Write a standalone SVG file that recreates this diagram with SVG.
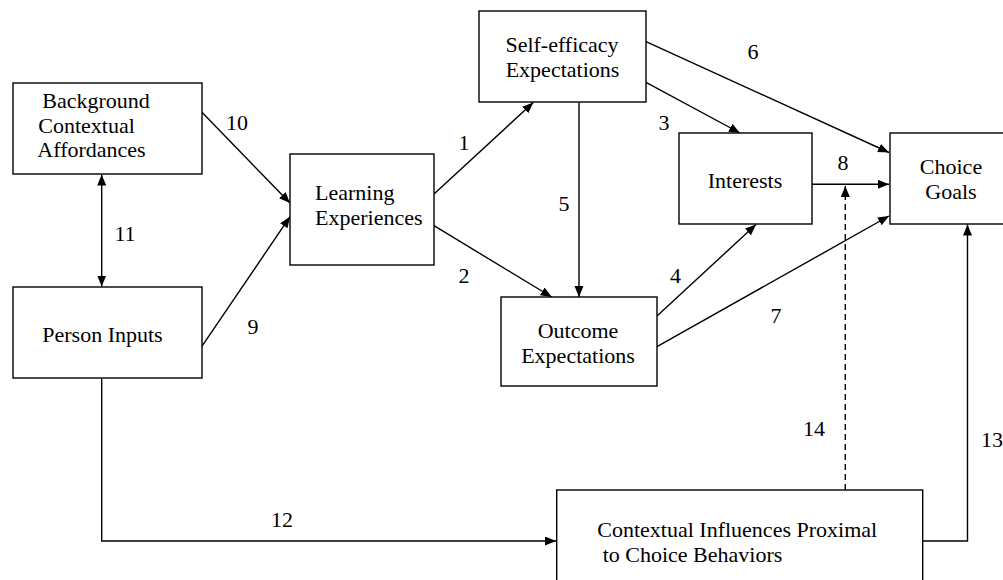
<svg xmlns="http://www.w3.org/2000/svg" width="1003" height="580" viewBox="0 0 1003 580">
<style>
.box{fill:#fff;stroke:#000;stroke-width:1.4}
text{font-family:'Liberation Serif','Times New Roman',serif;font-size:22px;fill:#000}
.m{text-anchor:middle}
.c{fill:none;stroke:#000;stroke-width:1.4}
.d{stroke-dasharray:6 4}
</style>
<defs>
<marker id="ah" markerUnits="userSpaceOnUse" markerWidth="12" markerHeight="10" refX="11" refY="4.5" orient="auto-start-reverse">
<path d="M0,0 L11,4.5 L0,9 z" fill="#000"/>
</marker>
</defs>
<rect width="1003" height="580" fill="#fff"/>
<g id="connectors">
<line class="c" x1="101.7" y1="174.5" x2="101.7" y2="286.5" marker-start="url(#ah)" marker-end="url(#ah)"/>
<line class="c" x1="201.7" y1="112" x2="290" y2="203" marker-end="url(#ah)"/>
<line class="c" x1="201.7" y1="346.7" x2="290" y2="216.7" marker-end="url(#ah)"/>
<line class="c" x1="434" y1="194" x2="533.3" y2="102.5" marker-end="url(#ah)"/>
<line class="c" x1="434" y1="225.7" x2="551.7" y2="297" marker-end="url(#ah)"/>
<line class="c" x1="579" y1="102.5" x2="579" y2="297" marker-end="url(#ah)"/>
<line class="c" x1="646" y1="82.3" x2="740" y2="133" marker-end="url(#ah)"/>
<line class="c" x1="646" y1="41.7" x2="889" y2="152.5" marker-end="url(#ah)"/>
<line class="c" x1="657" y1="316" x2="756" y2="224.5" marker-end="url(#ah)"/>
<line class="c" x1="657" y1="346.7" x2="889" y2="216" marker-end="url(#ah)"/>
<line class="c" x1="812" y1="184.3" x2="889" y2="184.3" marker-end="url(#ah)"/>
<path class="c" d="M101.7,378.5 V541 H556" marker-end="url(#ah)"/>
<path class="c" d="M922.7,541 H967.5 V224.5" marker-end="url(#ah)"/>
<line class="c d" x1="845.3" y1="490" x2="845.3" y2="186" marker-end="url(#ah)"/>
</g>
<g id="labels">
<text class="m" x="237" y="130">10</text>
<text class="m" x="125" y="241">11</text>
<text class="m" x="253" y="334">9</text>
<text class="m" x="464" y="150">1</text>
<text class="m" x="464" y="283">2</text>
<text class="m" x="664" y="130">3</text>
<text class="m" x="675.5" y="283">4</text>
<text class="m" x="564" y="211">5</text>
<text class="m" x="753" y="59">6</text>
<text class="m" x="776" y="323">7</text>
<text class="m" x="843" y="170">8</text>
<text class="m" x="282" y="527">12</text>
<text class="m" x="992" y="447">13</text>
<text class="m" x="814" y="436">14</text>
</g>
<g id="background">
<rect class="box" x="13" y="83" width="189" height="91"/>
<text class="m" x="96" y="108">Background</text>
<text class="m" x="86.5" y="132.5">Contextual</text>
<text class="m" x="91.5" y="157">Affordances</text>
</g>
<g id="person">
<rect class="box" x="13" y="287" width="189" height="91"/>
<text class="m" x="102.5" y="342">Person Inputs</text>
</g>
<g id="learning">
<rect class="box" x="290" y="154" width="144" height="111"/>
<text x="315" y="200">Learning</text>
<text x="315" y="225">Experiences</text>
</g>
<g id="selfefficacy">
<rect class="box" x="479" y="11" width="167" height="91"/>
<text class="m" x="562" y="52">Self-efficacy</text>
<text class="m" x="562.5" y="77">Expectations</text>
</g>
<g id="interests">
<rect class="box" x="679" y="133" width="133" height="91"/>
<text class="m" x="745" y="187.5">Interests</text>
</g>
<g id="outcome">
<rect class="box" x="501" y="297" width="156" height="89"/>
<text class="m" x="578" y="338">Outcome</text>
<text class="m" x="578" y="363">Expectations</text>
</g>
<g id="choice">
<rect class="box" x="890" y="133" width="130" height="91"/>
<text class="m" x="951" y="174">Choice</text>
<text class="m" x="951" y="199">Goals</text>
</g>
<g id="contextual">
<rect class="box" x="556.7" y="490" width="366" height="110"/>
<text x="597.3" y="537">Contextual Influences Proximal</text>
<text x="602.7" y="561.7">to Choice Behaviors</text>
</g>
</svg>
